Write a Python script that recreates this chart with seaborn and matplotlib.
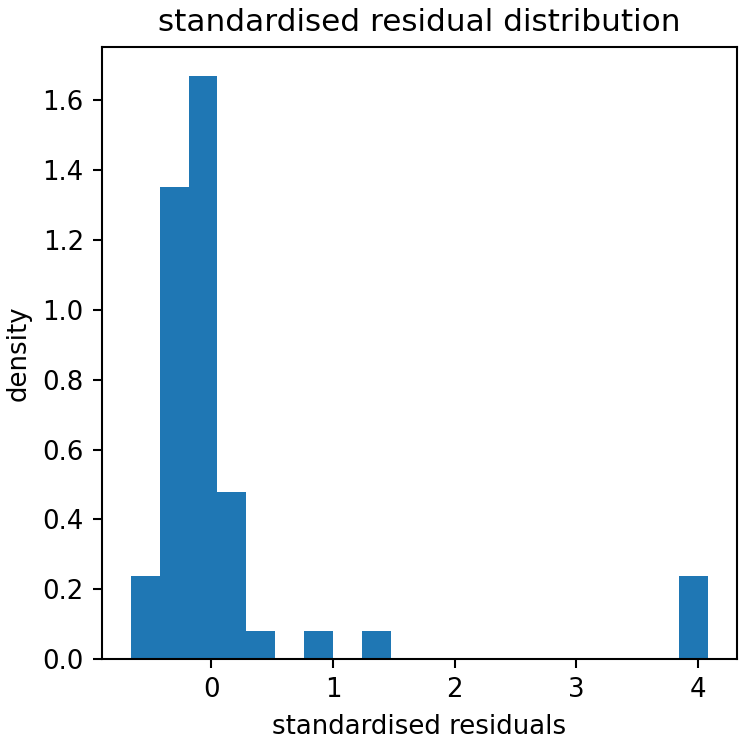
import numpy as np
import matplotlib
matplotlib.use('Agg')
import matplotlib.pyplot as plt
import seaborn as sns

# bin counts (20 equal bins, density normalised)
bin_lo = -0.663
bin_hi = 4.084
n_bins = 20
counts = [3, 17, 21, 6, 1, 0, 1, 0, 1, 0, 0, 0, 0, 0, 0, 0, 0, 0, 0, 3]

edges = np.linspace(bin_lo, bin_hi, n_bins + 1)
centers = (edges[:-1] + edges[1:]) / 2

dpi = 747 / 4
fig = plt.figure(figsize=(4, 4), dpi=dpi)
ax = fig.add_axes([102 / 747, 1 - 659 / 747, (737 - 102) / 747, (659 - 47) / 747])

sns.histplot(x=centers, weights=counts, bins=n_bins, binrange=(bin_lo, bin_hi),
             stat='density', color='#1f77b4', alpha=1, linewidth=0, ax=ax)

ax.set_title('standardised residual distribution', fontsize=12)
ax.set_xlabel('standardised residuals')
ax.set_ylabel('density')
ax.set_xticks([0, 1, 2, 3, 4])

fig.savefig('out.png', dpi=dpi)
